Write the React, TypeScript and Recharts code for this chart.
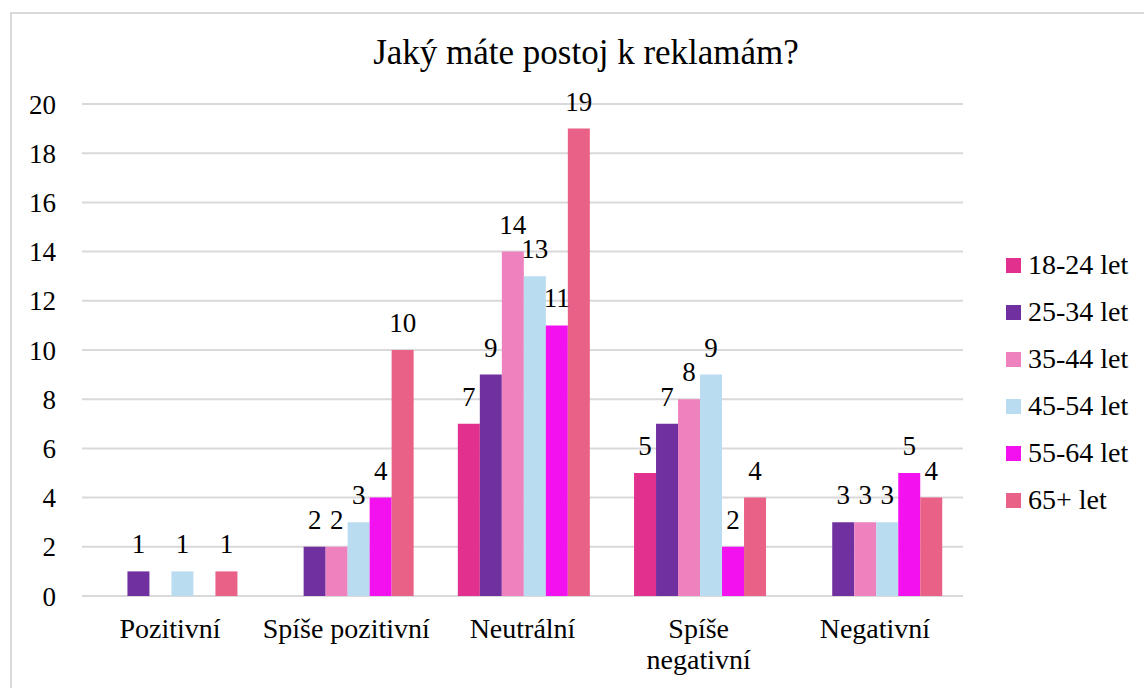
import React from 'react'
import { BarChart, Bar, XAxis, YAxis, CartesianGrid, LabelList } from 'recharts'

const categories = ['Pozitivní', 'Spíše pozitivní', 'Neutrální', 'Spíše negativní', 'Negativní']
// how the category names break in the axis
const tickLabels = [['Pozitivní'], ['Spíše pozitivní'], ['Neutrální'], ['Spíše', 'negativní'], ['Negativní']]

const seriesNames = ['18-24 let', '25-34 let', '35-44 let', '45-54 let', '55-64 let', '65+ let']
const seriesColors = ['#E2308E', '#7030A0', '#EE82BF', '#BADCF0', '#F411F0', '#E96186']

const age18to24 = [0, 0, 7, 5, 0]
const age25to34 = [1, 2, 9, 7, 3]
const age35to44 = [0, 2, 14, 8, 3]
const age45to54 = [1, 3, 13, 9, 3]
const age55to64 = [0, 4, 11, 2, 5]
const age65plus = [1, 10, 19, 4, 4]

const yTicks = [0, 2, 4, 6, 8, 10, 12, 14, 16, 18, 20]

const series = [age18to24, age25to34, age35to44, age45to54, age55to64, age65plus]

const data = categories.map((name, i) => {
  const row: Record<string, string | number> = { name }
  series.forEach((values, s) => {
    row[`s${s}`] = values[i]
  })
  return row
})

const FONT = '"Liberation Serif", "Times New Roman", serif'

const CategoryTick = (props: any) => {
  const { x, y, payload } = props
  const idx = categories.indexOf(payload.value)
  const lines = idx >= 0 ? tickLabels[idx] : [payload.value]
  return (
    <text x={x} y={y} textAnchor="middle" fontFamily={FONT} fontSize={28} fill="#000">
      {lines.map((line: string, i: number) => (
        <tspan key={i} x={x} dy={i === 0 ? '0.71em' : 31}>
          {line}
        </tspan>
      ))}
    </text>
  )
}

const hideZero = (v: any) => (Number(v) === 0 ? '' : v)

export default function App() {
  return (
    <div
      style={{
        position: 'absolute',
        left: 0,
        top: 0,
        width: 1144,
        height: 688,
        background: '#fff',
        overflow: 'hidden',
        fontFamily: FONT,
      }}
    >
      {/* outer frame, cut by the picture on the right and bottom */}
      <div
        style={{
          position: 'absolute',
          left: 10,
          top: 12,
          width: 1200,
          height: 720,
          border: '2px solid #d9d9d9',
          boxSizing: 'border-box',
        }}
      />

      <div
        style={{
          position: 'absolute',
          left: 0,
          top: 35,
          width: 1172,
          textAlign: 'center',
          fontSize: 35,
          lineHeight: '35px',
          color: '#000',
        }}
      >
        Jaký máte postoj k reklamám?
      </div>

      <div style={{ position: 'absolute', left: 0, top: 0 }}>
        <BarChart
          width={1144}
          height={688}
          data={data}
          margin={{ top: 104, right: 181, bottom: 0, left: 0 }}
          barCategoryGap="13.3%"
          barGap={0}
        >
          <CartesianGrid vertical={false} stroke="#d9d9d9" strokeWidth={2} />
          <XAxis
            dataKey="name"
            height={92}
            axisLine={false}
            tickLine={false}
            tickSize={0}
            tickMargin={22}
            interval={0}
            tick={<CategoryTick />}
          />
          <YAxis
            width={82}
            domain={[0, 20]}
            ticks={yTicks}
            axisLine={false}
            tickLine={false}
            tickSize={0}
            tickMargin={26}
            tick={{ fill: '#000', fontSize: 27, fontFamily: FONT }}
          />
          {seriesNames.map((name, s) => (
            <Bar key={name} dataKey={`s${s}`} name={name} fill={seriesColors[s]} isAnimationActive={false}>
              <LabelList
                dataKey={`s${s}`}
                position="top"
                offset={18}
                formatter={hideZero}
                fill="#000"
                fontSize={27}
                fontFamily={FONT}
              />
            </Bar>
          ))}
        </BarChart>
      </div>

      {/* legend */}
      {seriesNames.map((name, s) => (
        <div
          key={name}
          style={{
            position: 'absolute',
            left: 1006,
            top: 265 + s * 47 - 16,
            height: 32,
            display: 'flex',
            alignItems: 'center',
            fontSize: 28,
            color: '#000',
            whiteSpace: 'nowrap',
          }}
        >
          <span style={{ width: 15, height: 15, background: seriesColors[s], marginRight: 7, display: 'inline-block' }} />
          {name}
        </div>
      ))}
    </div>
  )
}
